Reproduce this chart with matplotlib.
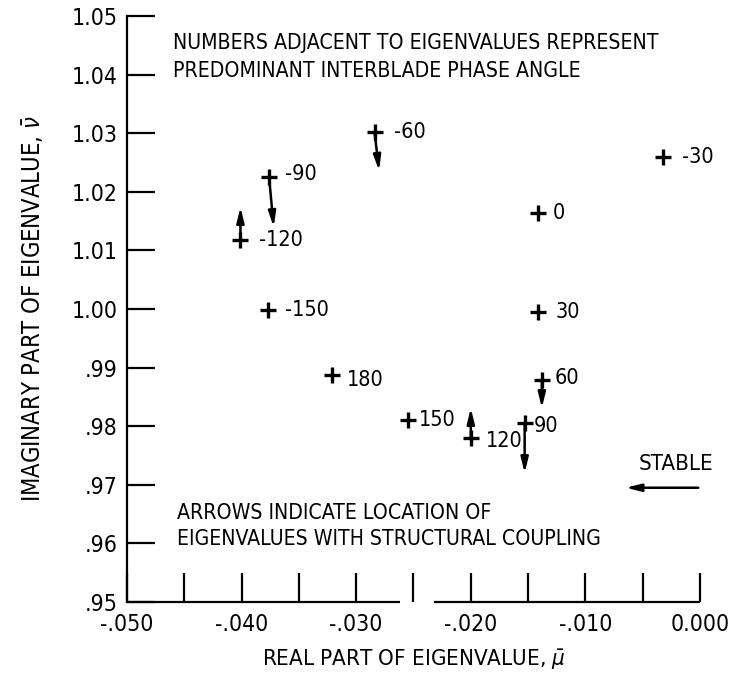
#!/usr/bin/env python3
"""Eigenvalues of the cascade flutter problem, labelled by interblade phase angle."""

import matplotlib
matplotlib.use("Agg")
import matplotlib.pyplot as plt
from matplotlib.ticker import FixedLocator, FixedFormatter

# eigenvalues (aerodynamic coupling only)
phase_angles = [-90, -120, -150, -60, -30, 0, 30, 60, 90, 120, 150, 180]
real_parts = [-0.0376, -0.0401, -0.0377, -0.0284, -0.0032, -0.0141,
              -0.0141, -0.0138, -0.0153, -0.0200, -0.0255, -0.0321]
imag_parts = [1.0225, 1.0118, 0.9998, 1.0302, 1.0259, 1.0164,
              0.9995, 0.9879, 0.9805, 0.9780, 0.9810, 0.9887]

# eigenvalues with structural coupling (arrow tips)
coupled_phases = [-90, -120, -60, 60, 90, 120]
coupled_real = [-0.0372, -0.0401, -0.0280, -0.0138, -0.0153, -0.0200]
coupled_imag = [1.0140, 1.0174, 1.0236, 0.9831, 0.9720, 0.9831]

x_ticks = [-0.050, -0.040, -0.030, -0.020, -0.010, 0.000]
x_minor = [-0.045, -0.035, -0.025, -0.015, -0.005]
x_tick_labels = ["-.050", "-.040", "-.030", "-.020", "-.010", "0.000"]
y_ticks = [0.95, 0.96, 0.97, 0.98, 0.99, 1.00, 1.01, 1.02, 1.03, 1.04, 1.05]
y_tick_labels = [".95", ".96", ".97", ".98", ".99", "1.00",
                 "1.01", "1.02", "1.03", "1.04", "1.05"]

# label offsets from the plus sign, in pixels (dx, dy)
label_offsets = {-90: (16, 3), -120: (19, 0), -150: (17, 0), -60: (19, 0),
                 -30: (19, 0), 0: (14, 0), 30: (17, 0), 60: (13, 2),
                 90: (9, -3), 120: (15, -3), 150: (11, 0), 180: (15, -5)}

plt.rcParams["font.family"] = ["DejaVu Sans"]
plt.rcParams["font.stretch"] = "condensed"
plt.rcParams["mathtext.fontset"] = "dejavusans"

fig = plt.figure(figsize=(7.31, 6.82), dpi=100)
ax = fig.add_axes([0.1737, 0.1173, 0.7839, 0.8592])
ax.set_xlim(-0.050, 0.000)
ax.set_ylim(0.95, 1.05)

ax.plot(real_parts, imag_parts, linestyle="none", marker="+",
        markersize=12, markeredgewidth=2.4, color="black", clip_on=False)

for ph, x, y in zip(phase_angles, real_parts, imag_parts):
    dx, dy = label_offsets[ph]
    ax.annotate(str(ph), (x, y), xytext=(dx, dy), textcoords="offset pixels",
                ha="left", va="center", fontsize=15.5)

lookup = dict(zip(phase_angles, zip(real_parts, imag_parts)))
for ph, x, y in zip(coupled_phases, coupled_real, coupled_imag):
    ax.annotate("", xy=(x, y), xytext=lookup[ph],
                arrowprops=dict(arrowstyle="-|>,head_length=0.9,head_width=0.22",
                                lw=1.8, color="black", shrinkA=0, shrinkB=0))

# axes styling
for side in ("top", "right", "bottom"):
    ax.spines[side].set_visible(False)
ax.spines["left"].set_linewidth(1.6)
# bottom line has a break near -.025 in the original
for x0, x1 in [(-0.050, -0.0262), (-0.0232, 0.000)]:
    ax.plot([x0, x1], [0.95, 0.95], color="black", lw=1.6, clip_on=False,
            solid_capstyle="butt")

ax.xaxis.set_major_locator(FixedLocator(x_ticks))
ax.xaxis.set_major_formatter(FixedFormatter(x_tick_labels))
ax.xaxis.set_minor_locator(FixedLocator(x_minor))
ax.yaxis.set_major_locator(FixedLocator(y_ticks))
ax.yaxis.set_major_formatter(FixedFormatter(y_tick_labels))
ax.tick_params(axis="x", which="both", direction="in", length=21, width=1.6,
               pad=8, labelsize=16.5)
ax.tick_params(axis="y", direction="in", length=20, width=1.6, pad=7,
               labelsize=16.5)

ax.set_xlabel(r"REAL PART OF EIGENVALUE, $\bar{\mu}$", fontsize=16, labelpad=8)
ax.set_ylabel(r"IMAGINARY PART OF EIGENVALUE, $\bar{\nu}$", fontsize=17,
              labelpad=18)

ax.text(0.081, 0.930, "NUMBERS ADJACENT TO EIGENVALUES REPRESENT\n"
        "PREDOMINANT INTERBLADE PHASE ANGLE", transform=ax.transAxes,
        ha="left", va="center", fontsize=15.2, linespacing=1.5)
ax.text(0.087, 0.130, "ARROWS INDICATE LOCATION OF\n"
        "EIGENVALUES WITH STRUCTURAL COUPLING", transform=ax.transAxes,
        ha="left", va="center", fontsize=15.2, linespacing=1.4)

ax.text(0.958, 0.235, "STABLE", transform=ax.transAxes, ha="center",
        va="center", fontsize=16)
ax.annotate("", xy=(0.870, 0.195), xytext=(0.997, 0.195),
            xycoords="axes fraction",
            arrowprops=dict(arrowstyle="-|>,head_length=0.9,head_width=0.22",
                            lw=1.8, color="black", shrinkA=0, shrinkB=0))

fig.savefig("out.png", dpi=100)
